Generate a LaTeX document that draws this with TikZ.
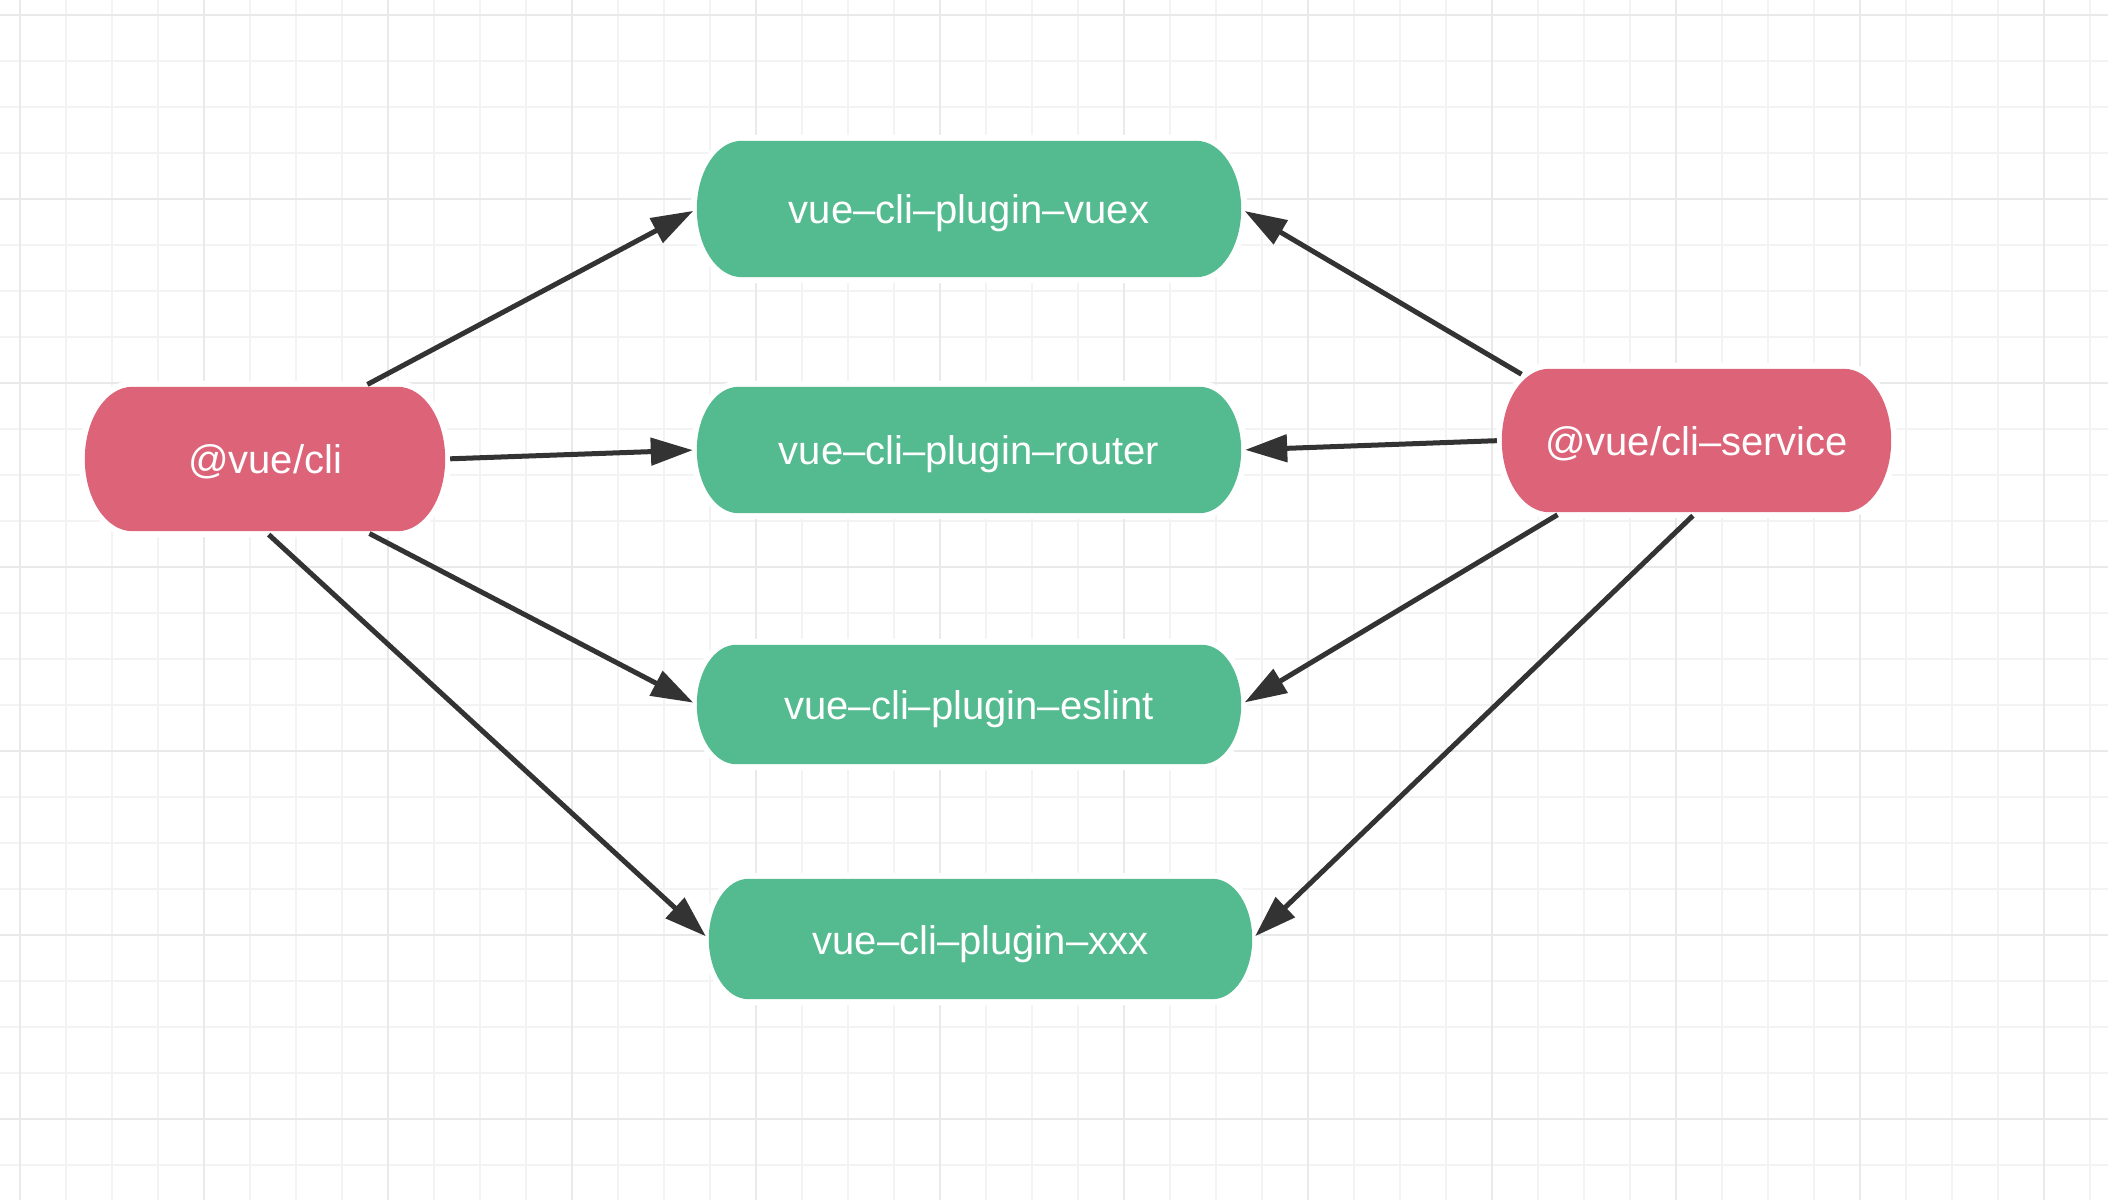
\documentclass[tikz,border=0pt]{standalone}
\usepackage{fontspec}
\setmainfont{Liberation Sans}
\usetikzlibrary{arrows.meta,backgrounds,calc}
\definecolor{clipink}{HTML}{DC6378}
\definecolor{plugingreen}{HTML}{54BA8F}
\definecolor{edgegray}{HTML}{333333}
\definecolor{gridmajor}{HTML}{E9E9E9}
\definecolor{gridminor}{HTML}{F3F3F3}
\tikzset{
  pill/.style={inner sep=0pt,text=white,font=\fontsize{40}{48}\selectfont,
    text height=31pt,text depth=1pt},
  link/.style={draw=edgegray,line width=5pt,-{Triangle[length=42pt,width=27pt]},
    shorten <=5pt,shorten >=4pt},
}
% pill with elliptic ends behind a node
\newcommand\pillbg[2]{%
  \fill[#2,preaction={draw=white,line width=12pt}]
    let \p1=(#1.north west), \p2=(#1.south east),
        \n1={0.5*(\y1-\y2)}, \n2={0.33*(\y1-\y2)} in
    (\x1+\n2,\y1) -- (\x2-\n2,\y1)
    arc[start angle=90,end angle=-90,x radius=\n2,y radius=\n1]
    -- (\x1+\n2,\y2)
    arc[start angle=270,end angle=90,x radius=\n2,y radius=\n1] -- cycle;
}
\begin{document}
\begin{tikzpicture}[x=1pt,y=1pt]
\useasboundingbox (0,0) rectangle (2108,1200);
\draw (265,741) node[pill,minimum width=360pt,minimum height=144pt](cli) {@vue/cli};
\draw (1696.5,759.5) node[pill,minimum width=389pt,minimum height=143pt](service) {@vue/cli–service};
\draw (969,991) node[pill,minimum width=544pt,minimum height=136pt](vuex) {vue–cli–plugin–vuex};
\draw (969,750) node[pill,minimum width=544pt,minimum height=126pt](router) {vue–cli–plugin–router};
\draw (969,495.5) node[pill,minimum width=544pt,minimum height=119pt](eslint) {vue–cli–plugin–eslint};
\draw (980.5,261) node[pill,minimum width=543pt,minimum height=120pt](xxx) {vue–cli–plugin–xxx};
\begin{scope}[on background layer]
  \fill[white] (0,0) rectangle (2108,1200);
  \begin{scope}[shift={(20,35)}]
    \draw[gridminor,line width=1.5pt,step=46] (-20,-35) grid (2088,1165);
  \end{scope}
  \begin{scope}[shift={(20,81)}]
    \draw[gridmajor,line width=2pt,step=184] (-20,-81) grid (2088,1119);
  \end{scope}
  \pillbg{cli}{clipink}
  \pillbg{service}{clipink}
  \pillbg{vuex}{plugingreen}
  \pillbg{router}{plugingreen}
  \pillbg{eslint}{plugingreen}
  \pillbg{xxx}{plugingreen}
\end{scope}
\draw[link] ([xshift=98pt]cli.north) -- (vuex.west);
\draw[link] (cli.east) -- (router.west);
\draw[link] ([xshift=100pt]cli.south) -- (eslint.west);
\draw[link] (cli.south) -- (xxx.west);
\draw[link] ([xshift=24pt,yshift=-8pt]service.north west) -- (vuex.east);
\draw[link] (service.west) -- (router.east);
\draw[link] ([xshift=60pt]service.south west) -- (eslint.east);
\draw[link] (service.south) -- (xxx.east);
\end{tikzpicture}
\end{document}
